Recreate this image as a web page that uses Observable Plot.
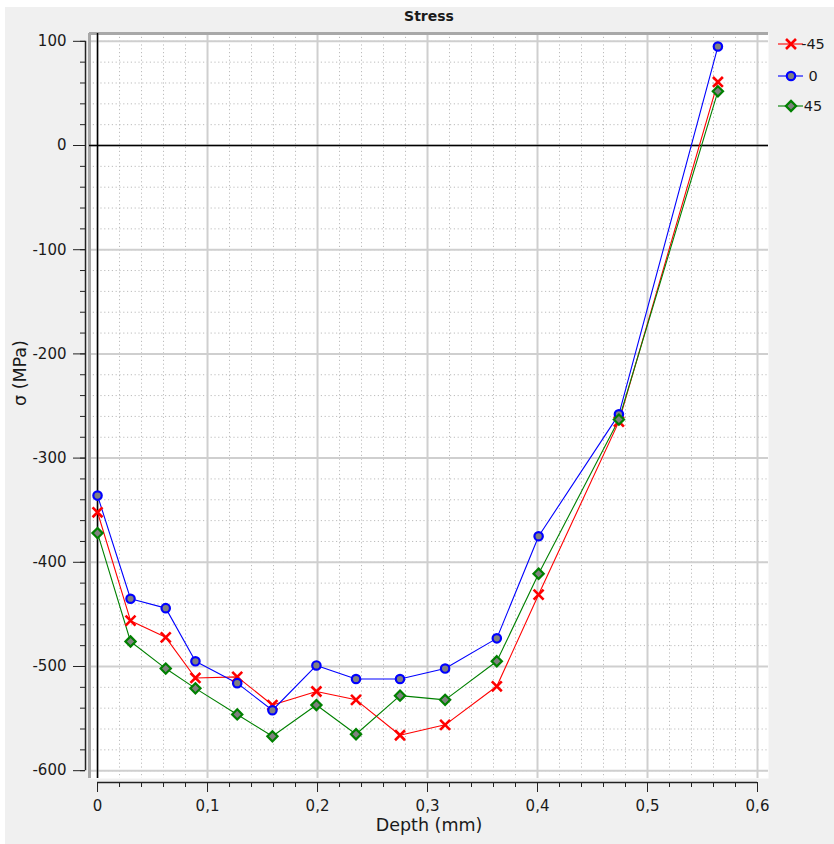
<!DOCTYPE html>
<html>
<head>
<meta charset="utf-8">
<script src="https://cdn.jsdelivr.net/npm/d3@7"></script>
<script src="https://cdn.jsdelivr.net/npm/@observablehq/plot@0.6"></script>
<style>
  html, body { margin: 0; padding: 0; background: #ffffff; }
  #chart svg { display: block; }
</style>
</head>
<body>
<div id="chart"></div>
<script>
// ---- data ----
const depth = [0, 0.030, 0.062, 0.089, 0.127, 0.159, 0.199, 0.235, 0.275, 0.316, 0.363, 0.401, 0.474, 0.564];
const sMinus45 = [-352, -456, -472, -511, -510, -537, -524, -532, -566, -556, -519, -431, -265, 61];
const s0       = [-336, -435, -444, -495, -516, -542, -499, -512, -512, -502, -473, -375, -258, 95];
const s45      = [-372, -476, -502, -521, -546, -567, -537, -565, -528, -532, -495, -411, -263, 52];
const seriesNames = ["-45", "0", "45"];
const seriesColors = ["#ff0000", "#0000ff", "#008000"];
const seriesSymbols = ["times", "circle", "diamond2"];
const xTicks = [0, 0.1, 0.2, 0.3, 0.4, 0.5, 0.6];
const xMinorTicks = d3.range(0, 31).map(i => +(i * 0.02).toFixed(2));
const yTicks = [-600, -500, -400, -300, -200, -100, 0, 100];
const yMinorTicks = d3.range(-30, 6).map(i => i * 20);
const titleText = "Stress";
const xLabel = "Depth (mm)";
const yLabel = "σ (MPa)";

const allValues = [sMinus45, s0, s45];
const rows = seriesNames.map((name, k) =>
  depth.map((d, i) => ({series: name, depth: d, stress: allValues[k][i]})));

const xDomain = [-0.0073, 0.61];
const yDomain = [-607.5, 107.5];
const fmtX = d => d === 0 ? "0" : d.toFixed(1).replace(".", ",");
const font = "DejaVu Sans";

const lineMarks = [];
const dotMarks = [];
[0, 1, 2].forEach(k => {
  lineMarks.push(Plot.line(rows[k], {x: "depth", y: "stress", stroke: seriesColors[k], strokeWidth: 1.1}));
  dotMarks.push(Plot.dot(rows[k], {
    x: "depth", y: "stress",
    symbol: () => seriesSymbols[k],
    stroke: seriesColors[k],
    fill: k === 0 ? "none" : "#808080",
    strokeWidth: k === 0 ? 2.6 : 2.2,
    r: k === 1 ? 4.2 : 4.6
  }));
});

const chart = Plot.plot({
  width: 834,
  height: 844,
  marginLeft: 89,
  marginRight: 66,
  marginTop: 33,
  marginBottom: 66,
  style: {background: "#f0f0f0", fontFamily: font, color: "#1a1a1a"},
  x: {domain: xDomain},
  y: {domain: yDomain},
  symbol: {type: "identity"},
  marks: [
    Plot.frame({fill: "white", stroke: null}),
    // minor grid
    Plot.gridX({ticks: xMinorTicks, stroke: "#bcbcbc", strokeOpacity: 1, strokeDasharray: "1.2,2.6", strokeWidth: 1}),
    Plot.gridY({ticks: yMinorTicks, stroke: "#bcbcbc", strokeOpacity: 1, strokeDasharray: "1.2,2.6", strokeWidth: 1}),
    // major grid
    Plot.gridX({ticks: xTicks, stroke: "#cfcfcf", strokeOpacity: 1, strokeWidth: 2}),
    Plot.gridY({ticks: yTicks, stroke: "#cfcfcf", strokeOpacity: 1, strokeWidth: 2}),
    // frame borders (left, top)
    Plot.ruleX([xDomain[0]], {stroke: "#a8a8a8", strokeWidth: 3}),
    Plot.ruleY([yDomain[1]], {stroke: "#a8a8a8", strokeWidth: 3}),
    // zero lines
    Plot.ruleY([0], {stroke: "black", strokeWidth: 1.5}),
    Plot.ruleX([0], {stroke: "black", strokeWidth: 1.5}),
    // axes
    Plot.ruleX([xDomain[0]], {y1: yTicks[0], y2: yTicks[yTicks.length - 1], dx: -4, stroke: "#222", strokeWidth: 1.5}),
    Plot.axisY({ticks: yMinorTicks, tickSize: 5, dx: -4, tickFormat: () => "", label: null, stroke: "#222"}),
    Plot.axisY({ticks: yTicks, tickSize: 12, dx: -4, tickPadding: 7, tickFormat: d => String(d), label: null, fontSize: 15, stroke: "#222"}),
    Plot.ruleY([yDomain[0]], {x1: xTicks[0], x2: xTicks[xTicks.length - 1], dy: 4, stroke: "#222", strokeWidth: 1.5}),
    Plot.axisX({ticks: xMinorTicks, tickSize: 5, dy: 4, tickFormat: () => "", label: null, stroke: "#222"}),
    Plot.axisX({ticks: xTicks, tickSize: 10, dy: 4, tickPadding: 8, tickFormat: fmtX, label: null, fontSize: 15, stroke: "#222"}),
    // labels
    Plot.text([titleText], {frameAnchor: "top", dy: -22, fontWeight: "bold", fontSize: 14, fill: "#1a1a1a"}),
    Plot.text([xLabel], {frameAnchor: "bottom", dy: 52, fontSize: 17.5, fill: "#1a1a1a"}),
    Plot.text([yLabel], {frameAnchor: "left", dx: -69, rotate: -90, fontSize: 17.5, fill: "#1a1a1a"}),
    // data
    ...lineMarks,
    ...dotMarks
  ]
});

const svg = d3.select(chart);
// white outer strip (top / left) like the original widget
svg.insert("rect", ":first-child").attr("x", 5).attr("y", 7).attr("width", 829).attr("height", 837).attr("fill", "#f0f0f0");
svg.insert("rect", ":first-child").attr("x", 0).attr("y", 0).attr("width", 834).attr("height", 844).attr("fill", "#ffffff");
chart.style.background = "#ffffff";

// legend
const legend = svg.append("g").attr("font-family", font).attr("font-size", 14.5);
const legendY = [44, 76, 106];
const symMap = {times: d3.symbolTimes, circle: d3.symbolCircle, diamond2: d3.symbolDiamond2};
seriesNames.forEach((name, k) => {
  const g = legend.append("g").attr("transform", `translate(0,${legendY[k]})`);
  g.append("line").attr("x1", 778).attr("x2", 803).attr("y1", 0).attr("y2", 0)
    .attr("stroke", seriesColors[k]).attr("stroke-width", 1.1);
  const r = k === 1 ? 4.2 : 4.6;
  g.append("path").attr("transform", "translate(791,0)")
    .attr("d", d3.symbol(symMap[seriesSymbols[k]], Math.PI * r * r)())
    .attr("stroke", seriesColors[k])
    .attr("stroke-width", k === 0 ? 2.6 : 2.2)
    .attr("fill", k === 0 ? "none" : "#808080");
  g.append("text").attr("x", 813).attr("y", 0).attr("dy", "0.35em")
    .attr("fill", "#1a1a1a").text(name);
});

document.getElementById("chart").appendChild(chart);
</script>
</body>
</html>
